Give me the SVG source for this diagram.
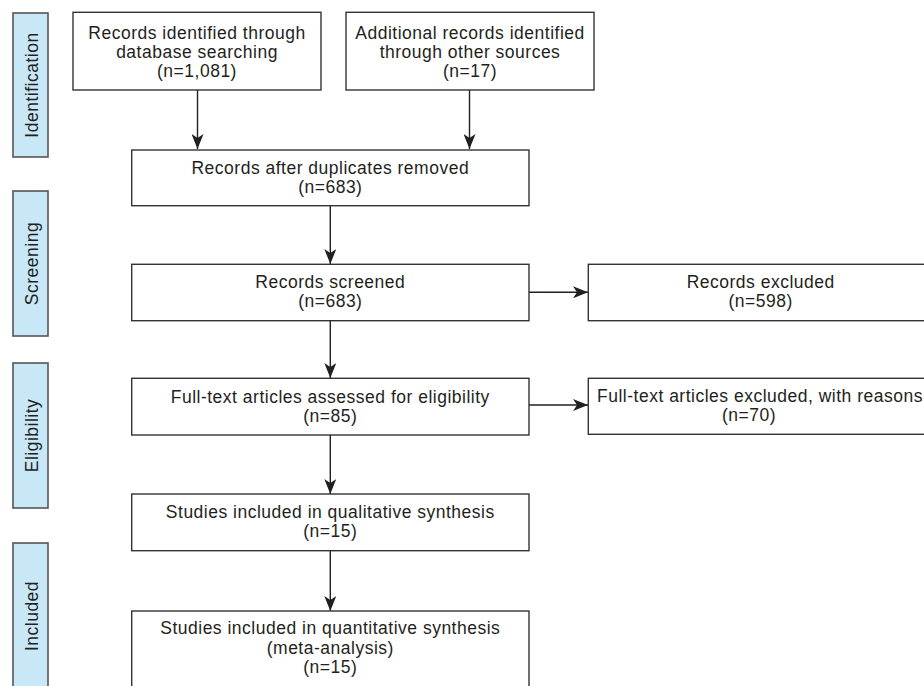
<svg xmlns="http://www.w3.org/2000/svg" width="924" height="686" viewBox="0 0 924 686">
<defs>
<style>
.box{fill:#fff;stroke:#333;stroke-width:1.4}
.side{fill:#c8e8f8;stroke:#555;stroke-width:1.6}
text{font-family:"Liberation Sans",Arial,Helvetica,sans-serif;font-size:17.5px;letter-spacing:0.5px;fill:#231f20;text-anchor:middle}
.conn line{stroke:#231f20;stroke-width:1.4}
</style>
<marker id="ah" viewBox="0 0 16 12" refX="15" refY="6" markerWidth="16" markerHeight="12" markerUnits="userSpaceOnUse" orient="auto">
<path d="M0,0 L15,6 L0,12 L4,6 Z" fill="#231f20"/>
</marker>
</defs>
<rect width="924" height="686" fill="#fff"/>
<g id="side-identification"><rect class="side" x="13" y="13" width="35" height="144"/><text transform="translate(37.5,85) rotate(-90)">Identification</text></g>
<g id="side-screening"><rect class="side" x="13" y="191" width="35" height="145"/><text transform="translate(37.5,263.5) rotate(-90)">Screening</text></g>
<g id="side-eligibility"><rect class="side" x="13" y="363" width="35" height="145"/><text transform="translate(37.5,435.5) rotate(-90)">Eligibility</text></g>
<g id="side-included"><rect class="side" x="13" y="543" width="35" height="150"/><text transform="translate(37.5,616) rotate(-90)">Included</text></g>

<g class="conn" id="connectors">
<line x1="197.5" y1="90" x2="197.5" y2="149" marker-end="url(#ah)"/>
<line x1="469.5" y1="90" x2="469.5" y2="149" marker-end="url(#ah)"/>
<line x1="330.3" y1="206" x2="330.3" y2="264" marker-end="url(#ah)"/>
<line x1="330.3" y1="321" x2="330.3" y2="378" marker-end="url(#ah)"/>
<line x1="330.3" y1="435" x2="330.3" y2="494" marker-end="url(#ah)"/>
<line x1="330.3" y1="551" x2="330.3" y2="611" marker-end="url(#ah)"/>
<line x1="529" y1="292.3" x2="588" y2="292.3" marker-end="url(#ah)"/>
<line x1="529" y1="405" x2="588" y2="405" marker-end="url(#ah)"/>
</g>

<g id="n-database"><rect class="box" x="73" y="12.3" width="248" height="77.7"/>
<text x="197" y="39">Records identified through</text><text x="197" y="58">database searching</text><text x="197" y="77">(n=1,081)</text></g>
<g id="n-other"><rect class="box" x="346" y="12.3" width="248" height="77.7"/>
<text x="470" y="39">Additional records identified</text><text x="470" y="58">through other sources</text><text x="470" y="77">(n=17)</text></g>
<g id="n-dedup"><rect class="box" x="131.7" y="150" width="397.3" height="55.7"/>
<text x="330.3" y="174">Records after duplicates removed</text><text x="330.3" y="193">(n=683)</text></g>
<g id="n-screened"><rect class="box" x="131.7" y="264.3" width="397.3" height="56.4"/>
<text x="330.3" y="288.3">Records screened</text><text x="330.3" y="307.3">(n=683)</text></g>
<g id="n-excluded"><rect class="box" x="588.3" y="264.3" width="345" height="56.4"/>
<text x="760.7" y="287.5">Records excluded</text><text x="760.7" y="306.5">(n=598)</text></g>
<g id="n-fulltext"><rect class="box" x="131.7" y="378.3" width="397.3" height="56.7"/>
<text x="330.3" y="402.5">Full-text articles assessed for eligibility</text><text x="330.3" y="421.5">(n=85)</text></g>
<g id="n-ft-excluded"><rect class="box" x="588.3" y="378.3" width="345" height="56"/>
<text x="760" y="402.3">Full-text articles excluded, with reasons</text><text x="749" y="421.3">(n=70)</text></g>
<g id="n-qual"><rect class="box" x="131.7" y="494" width="397.3" height="56.7"/>
<text x="330.3" y="518.3">Studies included in qualitative synthesis</text><text x="330.3" y="537.3">(n=15)</text></g>
<g id="n-quant"><rect class="box" x="131.7" y="611" width="397.3" height="90"/>
<text x="330.3" y="634.3">Studies included in quantitative synthesis</text><text x="330.3" y="653.5">(meta-analysis)</text><text x="330.3" y="672.7">(n=15)</text></g>
</svg>
